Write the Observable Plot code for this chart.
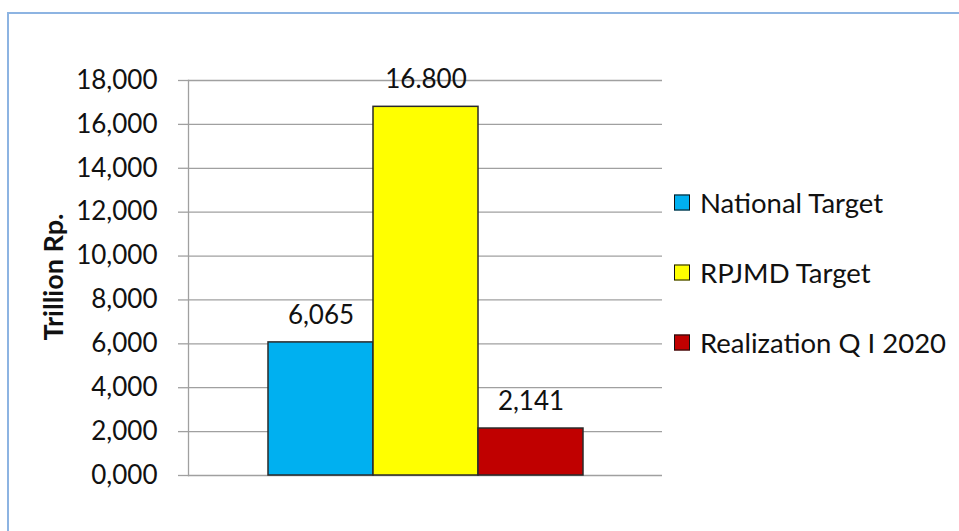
<!DOCTYPE html>
<html>
<head>
<meta charset="utf-8">
<script src="https://cdn.jsdelivr.net/npm/d3@7"></script>
<script src="https://cdn.jsdelivr.net/npm/@observablehq/plot@0.6"></script>
<style>
  html, body { margin: 0; padding: 0; background: #fff; }
  #wrap { position: relative; width: 959px; height: 531px; overflow: hidden; font-family: Lato, "Open Sans", sans-serif; }
  #border { position: absolute; left: 7px; top: 12px; width: 960px; height: 530px; border-top: 2px solid #8db4e2; border-left: 2px solid #8db4e2; box-sizing: border-box; }
  #chart { position: absolute; left: 0; top: 0; }
  #legend { position: absolute; left: 674px; top: 0; }
  .item { position: absolute; left: 0; display: flex; align-items: center; white-space: nowrap; font-size: 27.5px; color: #111; transform: translateY(-50%); }
  .sw { width: 14px; height: 14px; border: 1px solid #111; margin-right: 10px; }
</style>
</head>
<body>
<div id="wrap">
  <div id="border"></div>
  <div id="chart"></div>
  <div id="legend"></div>
</div>
<script>
const categories = ["National Target", "RPJMD Target", "Realization Q I 2020"];
const values = [6.065, 16.8, 2.141];
const valueLabels = ["6,065", "16.800", "2,141"];
const colors = ["#00b0f0", "#ffff00", "#c00000"];
const yTicks = [0, 2, 4, 6, 8, 10, 12, 14, 16, 18];
const yTickLabels = ["0,000", "2,000", "4,000", "6,000", "8,000", "10,000", "12,000", "14,000", "16,000", "18,000"];
const yTitle = "Trillion Rp.";

const data = categories.map((c, i) => ({name: c, value: values[i], label: valueLabels[i]}));
const tickLabel = new Map(yTicks.map((t, i) => [t, yTickLabels[i]]));

const chart = Plot.plot({
  width: 959,
  height: 531,
  marginLeft: 188,
  marginRight: 297,
  marginTop: 80,
  marginBottom: 56,
  style: {fontFamily: "Lato, 'Open Sans', sans-serif", background: "transparent", color: "#111"},
  x: {type: "band", domain: categories, paddingInner: 0, paddingOuter: 0.742, axis: null},
  y: {domain: [0, 18], axis: null},
  color: {domain: categories, range: colors},
  marks: [
    Plot.ruleY(yTicks, {stroke: "#a0a0a0", strokeWidth: 1.3}),
    Plot.frame({anchor: "left", stroke: "#a0a0a0", strokeWidth: 1.3}),
    Plot.axisY({ticks: yTicks, tickFormat: d => tickLabel.get(d), tickSize: 10, tickPadding: 21, fontSize: 26, stroke: "#a0a0a0", strokeWidth: 1.3, label: null}),
    Plot.barY(data, {x: "name", y: "value", fill: "name", stroke: "#2a2a2a", strokeWidth: 1.5, inset: 0}),
    Plot.text(data, {x: "name", y: "value", text: "label", dy: -27, fontSize: 26, fill: "#111"}),
    Plot.text([yTitle], {frameAnchor: "left", textAnchor: "middle", text: d => d, rotate: -90, dx: -134, dy: -1, fontSize: 27, fontWeight: "bold", fill: "#111"})
  ]
});
document.getElementById("chart").appendChild(chart);

const legend = document.getElementById("legend");
const legendY = [202, 272, 342];
categories.forEach((c, i) => {
  const it = document.createElement("div");
  it.className = "item";
  it.style.top = legendY[i] + "px";
  const sw = document.createElement("div");
  sw.className = "sw";
  sw.style.background = colors[i];
  const t = document.createElement("span");
  t.textContent = c;
  it.appendChild(sw);
  it.appendChild(t);
  legend.appendChild(it);
});
</script>
</body>
</html>
